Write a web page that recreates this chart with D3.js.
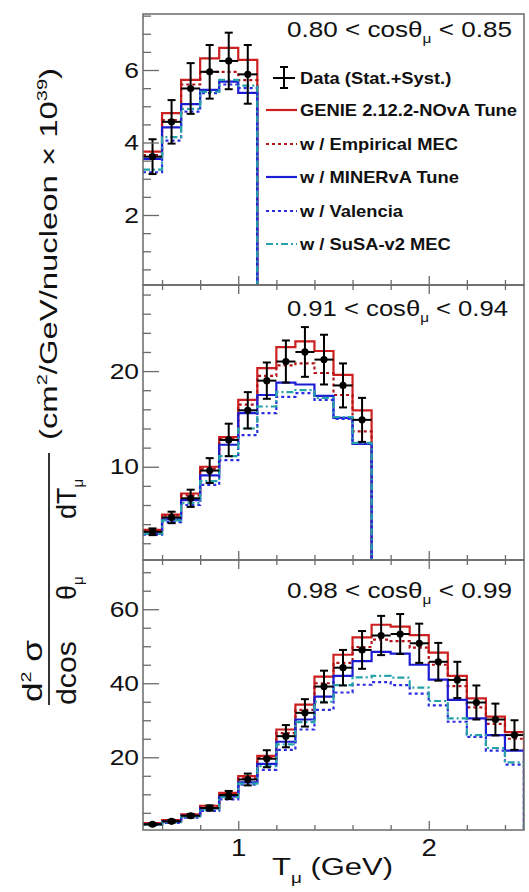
<!DOCTYPE html>
<html>
<head>
<meta charset="utf-8">
<script src="https://cdn.jsdelivr.net/npm/d3@7"></script>
<style>
  body { margin: 0; background: #fff; }
</style>
</head>
<body>
<div id="chart"></div>
<script>
// ---- data ----
var binWidth = 0.1;

// 0.80 < cos < 0.85
var bins1 = [0.5, 0.6, 0.7, 0.8, 0.9, 1.0];
var data1 = [3.61, 4.57, 5.49, 5.95, 6.25, 5.88];
var err1 = [0.48, 0.6, 0.7, 0.74, 0.78, 0.81];
var genie1 = [3.75, 4.81, 5.73, 6.32, 6.61, 6.28];
var empMec1 = [3.65, 4.62, 5.6, 5.95, 5.95, 5.72];
var minerva1 = [3.55, 4.42, 5.06, 5.45, 5.68, 5.37];
var valencia1 = [3.18, 4.05, 4.85, 5.36, 5.6, 5.5];
var susa1 = [3.25, 4.15, 4.93, 5.4, 5.73, 5.57];

// 0.91 < cos < 0.94
var bins2 = [0.5, 0.6, 0.7, 0.8, 0.9, 1.0, 1.1, 1.2, 1.3, 1.4, 1.5, 1.6];
var data2 = [3.2, 4.7, 6.7, 9.6, 12.8, 15.9, 19.0, 21.0, 22.0, 21.2, 18.5, 14.9];
var err2 = [0.35, 0.6, 0.9, 1.3, 1.7, 1.9, 1.9, 2.2, 2.6, 2.6, 2.3, 2.3];
var genie2 = [3.4, 5.0, 7.2, 10.0, 13.1, 17.0, 20.3, 22.5, 23.1, 22.1, 19.6, 15.9];
var empMec2 = [3.3, 4.9, 7.0, 9.8, 12.9, 16.5, 19.5, 20.6, 20.8, 19.8, 17.5, 13.7];
var minerva2 = [3.0, 4.5, 6.5, 9.1, 12.3, 15.6, 17.5, 18.8, 18.6, 17.4, 15.1, 12.4];
var valencia2 = [2.9, 4.2, 6.0, 8.1, 10.7, 13.3, 15.6, 17.3, 17.7, 17.0, 15.0, 12.4];
var susa2 = [3.0, 4.4, 6.2, 8.5, 11.1, 14.0, 16.3, 17.8, 18.0, 17.2, 15.2, 12.5];

// 0.98 < cos < 0.99
var bins3 = [0.5, 0.6, 0.7, 0.8, 0.9, 1.0, 1.1, 1.2, 1.3, 1.4, 1.5, 1.6, 1.7, 1.8, 1.9, 2.0, 2.1, 2.2, 2.3, 2.4];
var data3 = [1.9, 2.7, 4.2, 6.3, 9.8, 14.0, 19.6, 25.7, 32.0, 39.1, 44.2, 49.0, 52.9, 53.3, 50.8, 45.8, 40.9, 34.8, 30.2, 26.0];
var err3 = [0.3, 0.4, 0.5, 0.7, 1.1, 1.6, 2.3, 3.0, 3.7, 4.3, 4.8, 5.1, 5.3, 5.4, 5.3, 5.1, 4.9, 4.6, 4.3, 4.0];
var genie3 = [2.2, 3.0, 4.6, 6.9, 10.4, 14.9, 20.4, 27.5, 34.2, 41.8, 47.7, 52.4, 55.8, 55.3, 53.0, 48.3, 42.0, 35.9, 31.0, 26.8];
var empMec3 = [2.1, 2.9, 4.4, 6.6, 10.0, 14.3, 19.8, 26.5, 32.8, 40.0, 45.5, 49.8, 51.8, 51.4, 49.6, 45.0, 39.2, 33.5, 29.0, 25.0];
var minerva3 = [1.9, 2.6, 4.2, 6.2, 9.4, 13.2, 18.2, 24.2, 30.2, 36.4, 42.0, 46.0, 48.5, 48.0, 45.0, 41.0, 35.5, 30.5, 26.0, 21.8];
var valencia3 = [1.7, 2.3, 3.7, 5.5, 8.6, 12.6, 16.6, 22.0, 27.5, 32.8, 37.5, 39.6, 40.3, 39.5, 37.2, 34.0, 29.6, 25.5, 21.8, 18.0];
var susa3 = [1.8, 2.5, 4.0, 5.9, 9.2, 12.9, 17.6, 23.5, 29.5, 35.0, 39.5, 41.6, 42.0, 41.5, 38.8, 35.2, 30.5, 26.0, 22.5, 18.6];

var cosLow = ["0.80", "0.91", "0.98"];
var cosHigh = ["0.85", "0.94", "0.99"];

var yTicks1 = [2, 4, 6];
var yTicks2 = [10, 20];
var yTicks3 = [20, 40, 60];
var xTicks = [1, 2];

var legendLabels = ["Data (Stat.+Syst.)", "GENIE 2.12.2-NOvA Tune", "w / Empirical MEC",
                    "w / MINERvA Tune", "w / Valencia", "w / SuSA-v2 MEC"];

// ---- layout ----
var width = 529, height = 892;
var left = 143, right = 524;
var frameColor = '#6a6a6a';
var font = '"Liberation Sans", Arial, Helvetica, sans-serif';

var styles = [
    { color: '#cc1f1f', dash: null },          // GENIE
    { color: '#b3141a', dash: '3,3' },         // empirical MEC
    { color: '#1c1cd2', dash: null },          // MINERvA
    { color: '#2b2be0', dash: '3,3' },         // Valencia
    { color: '#26a3a8', dash: '7,3,2,3' }      // SuSA
];

var panels = [
    { top: 14, bottom: 285, yDom: [0.069, 7.545], ticks: yTicks1, minorStep: 0.5, bins: bins1,
      data: data1, err: err1, series: [genie1, empMec1, minerva1, valencia1, susa1], labelY: 37 },
    { top: 285, bottom: 560, yDom: [0.25, 29.0], ticks: yTicks2, minorStep: 2, bins: bins2,
      data: data2, err: err2, series: [genie2, empMec2, minerva2, valencia2, susa2], labelY: 316 },
    { top: 560, bottom: 830, yDom: [0.35, 73.3], ticks: yTicks3, minorStep: 5, bins: bins3,
      data: data3, err: err3, series: [genie3, empMec3, minerva3, valencia3, susa3], labelY: 598 }
];

var svg = d3.select('#chart')
    .append('svg')
        .attr('width', width)
        .attr('height', height)
        .style('font-family', font);

var x = d3.scaleLinear()
    .domain([0.5, 2.5])
    .range([left, right]);

var xMinor = d3.range(0.6, 2.45, 0.2).filter(function(v){ return Math.abs(v - 1) > 0.01 && Math.abs(v - 2) > 0.01; });

// stretch text horizontally a little, the original is wide
function widen(sel, f) {
    sel.each(function(){
        var w = this.getComputedTextLength();
        d3.select(this).attr('textLength', w * f).attr('lengthAdjust', 'spacingAndGlyphs');
    });
}

function fitTo(sel, len) {
    sel.attr('textLength', len).attr('lengthAdjust', 'spacingAndGlyphs');
}

function styleAxis(g) {
    g.select('.domain').remove();
    g.selectAll('.tick line').attr('stroke', frameColor).attr('stroke-width', 1.3);
    g.selectAll('.tick text').attr('fill', '#111').style('font-family', font);
}

panels.forEach(function(p, pi){
    var y = d3.scaleLinear()
        .domain(p.yDom)
        .range([p.bottom, p.top]);

    var clipId = 'clip' + pi;
    svg.append('clipPath')
        .attr('id', clipId)
        .append('rect')
            .attr('x', left)
            .attr('y', p.top)
            .attr('width', right - left)
            .attr('height', p.bottom - p.top);

    var g = svg.append('g').attr('clip-path', 'url(#' + clipId + ')');

    // MC histograms
    p.series.forEach(function(vals, si){
        var pts = p.bins.map(function(b, i){ return [x(b), y(vals[i])]; });
        var last = p.bins[p.bins.length - 1] + binWidth;
        pts.push([x(last), y(vals[vals.length - 1])]);
        pts.push([x(last), p.bottom + 2]);
        g.append('path')
            .attr('d', d3.line().curve(d3.curveStepAfter)(pts))
            .attr('fill', 'none')
            .attr('stroke', styles[si].color)
            .attr('stroke-width', 2.2)
            .attr('stroke-dasharray', styles[si].dash);
    });

    // data points with errors
    var pts = g.selectAll('.pt')
        .data(p.bins.map(function(b, i){ return { lo: b, v: p.data[i], e: p.err[i] }; }))
        .enter()
        .append('g')
        .attr('class', 'pt');

    pts.append('line')
        .attr('x1', function(d){ return x(d.lo); })
        .attr('x2', function(d){ return x(d.lo + binWidth); })
        .attr('y1', function(d){ return y(d.v); })
        .attr('y2', function(d){ return y(d.v); });
    pts.append('line')
        .attr('x1', function(d){ return x(d.lo + binWidth / 2); })
        .attr('x2', function(d){ return x(d.lo + binWidth / 2); })
        .attr('y1', function(d){ return y(d.v - d.e); })
        .attr('y2', function(d){ return y(d.v + d.e); });
    [1, -1].forEach(function(s){
        pts.append('line')
            .attr('x1', function(d){ return x(d.lo + binWidth / 2) - 4; })
            .attr('x2', function(d){ return x(d.lo + binWidth / 2) + 4; })
            .attr('y1', function(d){ return y(d.v + s * d.e); })
            .attr('y2', function(d){ return y(d.v + s * d.e); });
    });
    pts.selectAll('line')
        .attr('stroke', '#000')
        .attr('stroke-width', 2);
    pts.append('circle')
        .attr('cx', function(d){ return x(d.lo + binWidth / 2); })
        .attr('cy', function(d){ return y(d.v); })
        .attr('r', 3.6)
        .attr('fill', '#000');

    // frame
    svg.append('rect')
        .attr('x', left)
        .attr('y', p.top)
        .attr('width', right - left)
        .attr('height', p.bottom - p.top)
        .attr('fill', 'none')
        .attr('stroke', frameColor)
        .attr('stroke-width', 1.5);

    // y axis
    var minors = d3.range(p.minorStep, p.yDom[1], p.minorStep)
        .filter(function(v){ return v > p.yDom[0] && p.ticks.indexOf(v) < 0; });
    svg.append('g')
        .attr('transform', 'translate(' + left + ',0)')
        .call(d3.axisLeft(y).tickValues(minors).tickSize(-8).tickFormat(''))
        .call(styleAxis);
    var yAxisG = svg.append('g')
        .attr('transform', 'translate(' + left + ',0)')
        .call(d3.axisLeft(y).tickValues(p.ticks).tickSize(-16).tickPadding(4))
        .call(styleAxis);
    yAxisG.selectAll('.tick text')
        .attr('font-size', '22px')
        .call(widen, 1.2);

    // x ticks on bottom and top of each pad
    var showLabels = (pi === panels.length - 1);
    svg.append('g')
        .attr('transform', 'translate(0,' + p.bottom + ')')
        .call(d3.axisBottom(x).tickValues(xMinor).tickSize(-5).tickFormat(''))
        .call(styleAxis);
    var xAxisG = svg.append('g')
        .attr('transform', 'translate(0,' + p.bottom + ')')
        .call(d3.axisBottom(x).tickValues(xTicks).tickSize(-9).tickPadding(10)
            .tickFormat(showLabels ? d3.format('d') : ''))
        .call(styleAxis);
    xAxisG.selectAll('.tick text')
        .attr('font-size', '23px')
        .call(widen, 1.2);
    if (pi > 0) {
        svg.append('g')
            .attr('transform', 'translate(0,' + p.top + ')')
            .call(d3.axisTop(x).tickValues(xMinor).tickSize(-5).tickFormat(''))
            .call(styleAxis);
        svg.append('g')
            .attr('transform', 'translate(0,' + p.top + ')')
            .call(d3.axisTop(x).tickValues(xTicks).tickSize(-9).tickFormat(''))
            .call(styleAxis);
    }

    // angular bin label
    var lab = svg.append('text')
        .attr('x', 287)
        .attr('y', p.labelY)
        .attr('font-size', '22px')
        .attr('fill', '#111');
    lab.append('tspan').text(cosLow[pi] + ' < cosθ');
    lab.append('tspan').attr('font-size', '13px').attr('dy', 6).text('μ');
    lab.append('tspan').attr('dy', -6).text(' < ' + cosHigh[pi]);
    fitTo(lab, pi === 1 ? 221 : 225);
});

// ---- legend ----
var legendY = [78, 110, 144, 177, 211, 244];
var legend = svg.append('g').attr('class', 'legend');

legend.append('line')
    .attr('x1', 273).attr('x2', 295)
    .attr('y1', legendY[0]).attr('y2', legendY[0]);
legend.append('line')
    .attr('x1', 284).attr('x2', 284)
    .attr('y1', legendY[0] - 11).attr('y2', legendY[0] + 10);
legend.append('line')
    .attr('x1', 280).attr('x2', 288)
    .attr('y1', legendY[0] - 11).attr('y2', legendY[0] - 11);
legend.append('line')
    .attr('x1', 280).attr('x2', 288)
    .attr('y1', legendY[0] + 10).attr('y2', legendY[0] + 10);
legend.selectAll('line').attr('stroke', '#000').attr('stroke-width', 2);

styles.forEach(function(s, i){
    legend.append('line')
        .attr('x1', 266).attr('x2', 297)
        .attr('y1', legendY[i + 1]).attr('y2', legendY[i + 1])
        .attr('stroke', s.color)
        .attr('stroke-width', 2.2)
        .attr('stroke-dasharray', s.dash);
});

var legendText = legend.selectAll('.ltext')
    .data(legendLabels)
    .enter()
    .append('text')
    .attr('class', 'ltext')
    .attr('x', 300)
    .attr('y', function(d, i){ return legendY[i] + 6; })
    .attr('font-size', '17px')
    .attr('font-weight', 'bold')
    .attr('fill', '#111')
    .text(function(d){ return d; });
var genieWidth = legendText.filter(function(d, i){ return i === 1; }).node().getComputedTextLength();
legendText.call(widen, 217 / genieWidth);

// ---- axis titles ----
var xt = svg.append('text')
    .attr('x', 272)
    .attr('y', 875)
    .attr('font-size', '23px')
    .attr('fill', '#111');
xt.append('tspan').text('T');
xt.append('tspan').attr('font-size', '14px').attr('dy', 8).text('μ');
xt.append('tspan').attr('dy', -8).text(' (GeV)');
fitTo(xt, 121);

// rotated y title: fraction along the lower part, units above it
var yt = svg.append('g')
    .attr('transform', 'translate(49,705) rotate(-90)')
    .attr('fill', '#111');

yt.append('line')
    .attr('x1', 0).attr('x2', 252)
    .attr('y1', 0).attr('y2', 0)
    .attr('stroke', '#333')
    .attr('stroke-width', 2);

var num = yt.append('text')
    .attr('x', 3)
    .attr('y', -7)
    .attr('font-size', '27px');
num.append('tspan').text('d');
num.append('tspan').attr('font-size', '15px').attr('dy', -11).text('2');
num.append('tspan').attr('dy', 11).text(' σ');
fitTo(num, 62);

function denPiece(u, main, len) {
    var t = yt.append('text')
        .attr('x', u)
        .attr('y', 27)
        .attr('font-size', '27px');
    t.append('tspan').text(main);
    if (len) fitTo(t, len);
    return t;
}
denPiece(0, 'dcos', 64);
var th = denPiece(105, 'θ');
th.append('tspan').attr('font-size', '15px').attr('dy', 7).text('μ');
var dT = denPiece(186, 'dT');
dT.append('tspan').attr('font-size', '15px').attr('dy', 7).text('μ');

var units = yt.append('text')
    .attr('x', 265)
    .attr('y', 8)
    .attr('font-size', '23px');
units.append('tspan').text('(cm');
units.append('tspan').attr('font-size', '14px').attr('dy', -10).text('2');
units.append('tspan').attr('dy', 10).text('/GeV/nucleon × 10');
units.append('tspan').attr('font-size', '14px').attr('dy', -10).text('39');
units.append('tspan').attr('dy', 10).text(')');
fitTo(units, 372);
</script>
</body>
</html>
